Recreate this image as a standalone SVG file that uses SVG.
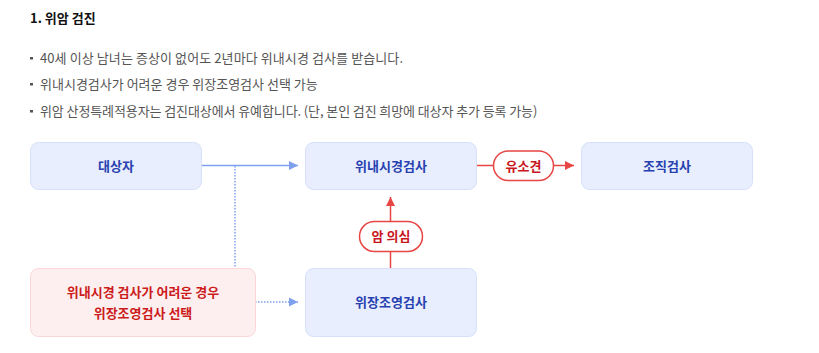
<svg xmlns="http://www.w3.org/2000/svg" width="819" height="353" viewBox="0 0 819 353">
<style>
text{font-family:"Noto Sans CJK KR","Noto Sans",sans-serif}
.title{font-size:13px;font-weight:700;fill:#111}
.bul{font-size:13px;fill:#555}
.node rect{fill:#e8eefe;stroke:#d6e0fb;stroke-width:1}
.node text{font-size:13px;font-weight:700;fill:#2741b0;text-anchor:middle}
.warn rect{fill:#fdeff0;stroke:#fbd5d8;stroke-width:1}
.warn text{font-size:13px;font-weight:700;fill:#cc1b1b;text-anchor:middle}
.blue{stroke:#7fa0ef;stroke-width:1.5;fill:none}
.dot{stroke:#7fa0ef;stroke-width:1.5;fill:none;stroke-dasharray:1.5 1.5}
.red{stroke:#e84545;stroke-width:1.5;fill:none}
.pill rect{fill:#fff;stroke:#e84545;stroke-width:1.5}
.pill text{font-size:13px;font-weight:700;fill:#c8161e;text-anchor:middle}
</style>
<defs>
<marker id="ab" markerWidth="10" markerHeight="10" refX="9" refY="5" orient="auto" markerUnits="userSpaceOnUse"><path d="M0,0.5 L9,5 L0,9.5 Z" fill="#7fa0ef"/></marker>
<marker id="ar" markerWidth="10" markerHeight="10" refX="9" refY="5" orient="auto" markerUnits="userSpaceOnUse"><path d="M0,0.5 L9,5 L0,9.5 Z" fill="#e84545"/></marker>
</defs>
<rect width="819" height="353" fill="#fff"/>
<text class="title" x="30" y="23">1. 위암 검진</text>
<rect x="30" y="57" width="3" height="2.5" fill="#555"/>
<rect x="30" y="83" width="3" height="2.5" fill="#555"/>
<rect x="30" y="110" width="3" height="2.5" fill="#555"/>
<text class="bul" x="40" y="63" textLength="363" lengthAdjust="spacing">40세 이상 남녀는 증상이 없어도 2년마다 위내시경 검사를 받습니다.</text>
<text class="bul" x="40" y="89">위내시경검사가 어려운 경우 위장조영검사 선택 가능</text>
<text class="bul" x="40" y="116" style="letter-spacing:-0.1px">위암 산정특례적용자는 검진대상에서 유예합니다. (단, 본인 검진 희망에 대상자 추가 등록 가능)</text>
<g id="connectors">
<path class="blue" d="M201,165.5 H298" marker-end="url(#ab)"/>
<path class="dot" d="M235,166 V268"/>
<path class="dot" d="M255,302 H298" marker-end="url(#ab)"/>
<path class="red" d="M476,165.5 H574" marker-end="url(#ar)"/>
<path class="red" d="M390.5,268 V197" marker-end="url(#ar)"/>
</g>
<g id="n1" class="node"><rect x="30.5" y="142.5" width="171" height="47" rx="8"/><text x="116" y="170.5">대상자</text></g>
<g id="n2" class="node"><rect x="305.5" y="142.5" width="171" height="47" rx="8"/><text x="391" y="170.5">위내시경검사</text></g>
<g id="n3" class="node"><rect x="581.5" y="142.5" width="171" height="47" rx="8"/><text x="667" y="170.5">조직검사</text></g>
<g id="n4" class="warn"><rect x="30.5" y="268.5" width="225" height="68" rx="8"/><text x="143" y="297">위내시경 검사가 어려운 경우</text><text x="143" y="318">위장조영검사 선택</text></g>
<g id="n5" class="node"><rect x="305.5" y="268.5" width="171" height="68" rx="8"/><text x="391" y="307">위장조영검사</text></g>
<g id="l1" class="pill"><rect x="493.5" y="151" width="60" height="29.5" rx="14.75"/><text x="523.5" y="170.5">유소견</text></g>
<g id="l2" class="pill"><rect x="359.5" y="221.5" width="63" height="30" rx="15"/><text x="391" y="241">암 의심</text></g>
</svg>
